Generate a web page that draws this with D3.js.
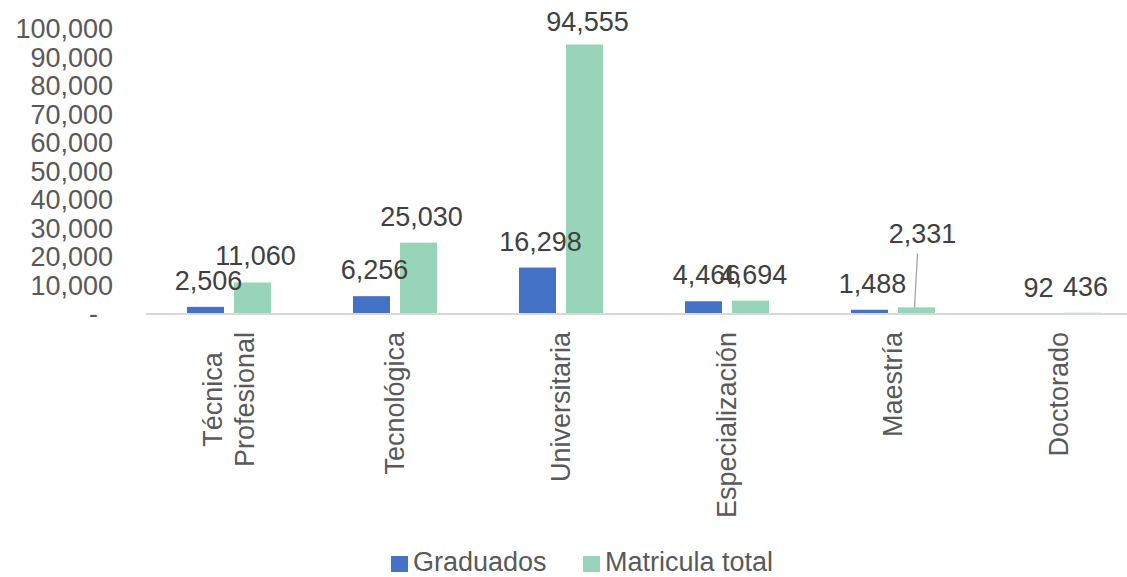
<!DOCTYPE html>
<html>
<head>
<meta charset="utf-8">
<script src="https://cdn.jsdelivr.net/npm/d3@7"></script>
<style>
  body { margin: 0; background: #fff; }
  svg { display: block; font-family: "Liberation Sans", Arial, sans-serif; }
</style>
</head>
<body>
<svg id="chart" width="1127" height="577"></svg>
<script>
// data
const categories = ["Técnica\nProfesional", "Tecnológica", "Universitaria", "Especialización", "Maestría", "Doctorado"];
const series = ["Graduados", "Matricula total"];
const graduados = [2506, 6256, 16298, 4466, 1488, 92];
const matricula = [11060, 25030, 94555, 4694, 2331, 436];
const yTicks = [0, 10000, 20000, 30000, 40000, 50000, 60000, 70000, 80000, 90000, 100000];
const colors = ["#4472C4", "#98D4B9"];
// label moved up with a leader line (Maestría, matricula)
const labelLift = { "Maestría|Matricula total": 47 };

const W = 1127, H = 577;
const plot = { left: 146, right: 1142, top: 29, bottom: 314 };

const svg = d3.select("#chart");

let x = d3.scaleBand().domain(categories).range([plot.left, plot.right]);
let bw = x.bandwidth();
let xSub = d3.scaleBand().domain(series)
	.range([bw / 2 - 42, bw / 2 + 42])
	.paddingInner(10 / 47);
let y = d3.scaleLinear().domain([0, 100000]).range([plot.bottom, plot.top]);

let rows = [];
categories.forEach((c, i) => {
	rows.push({ cat: c, s: series[0], v: graduados[i] });
	rows.push({ cat: c, s: series[1], v: matricula[i] });
});

// y axis, labels only
let yAxis = svg.append("g")
	.attr("transform", `translate(${plot.left},0)`)
	.call(d3.axisLeft(y).tickValues(yTicks).tickSize(0).tickPadding(33)
		.tickFormat(d => d === 0 ? "-" : d3.format(",")(d)));
yAxis.select(".domain").remove();
yAxis.selectAll("text")
	.attr("font-size", 27)
	.attr("font-family", "Liberation Sans, Arial, sans-serif")
	.attr("fill", "#595959")
	.attr("dx", d => d === 0 ? -15 : 0);

// bars
svg.append("g").selectAll("rect").data(rows).join("rect")
	.attr("x", d => x(d.cat) + xSub(d.s))
	.attr("width", xSub.bandwidth())
	.attr("y", d => y(d.v))
	.attr("height", d => plot.bottom - y(d.v))
	.attr("fill", d => colors[series.indexOf(d.s)]);

// baseline
svg.append("line")
	.attr("x1", plot.left).attr("x2", W)
	.attr("y1", plot.bottom).attr("y2", plot.bottom)
	.attr("stroke", "#d9d9d9").attr("stroke-width", 2);

// data labels
let labels = svg.append("g");
rows.forEach(d => {
	let cx = x(d.cat) + xSub(d.s) + xSub.bandwidth() / 2;
	let lift = labelLift[d.cat + "|" + d.s] || 0;
	let gap = d.v > 50000 ? 14 : 17;
	let ty = y(d.v) - gap - lift;
	if (lift) {
		labels.append("line")
			.attr("x1", cx - 2).attr("y1", y(d.v))
			.attr("x2", cx + 1).attr("y2", ty + 10)
			.attr("stroke", "#a6a6a6").attr("stroke-width", 1.3);
	}
	labels.append("text")
		.attr("x", cx + 3 + (lift ? 3 : 0))
		.attr("y", ty)
		.attr("text-anchor", "middle")
		.attr("font-size", 27)
		.attr("fill", "#404040")
		.text(d3.format(",")(d.v));
});

// category labels, rotated, end at top
let catG = svg.append("g");
categories.forEach(c => {
	let lines = c.split("\n");
	let cx = x(c) + bw / 2;
	let t = catG.append("text")
		.attr("font-size", 27)
		.attr("fill", "#595959")
		.attr("text-anchor", "middle");
	let spans = lines.map(l => t.append("tspan").text(l));
	let maxW = d3.max(spans, s => s.node().getComputedTextLength());
	let yc = plot.bottom + 18 + maxW / 2;
	let n = lines.length;
	spans.forEach((s, k) => {
		s.attr("x", -yc).attr("y", cx + (k - (n - 1) / 2) * 32 + 9);
	});
	t.attr("transform", "rotate(-90)");
});

// legend
let leg = svg.append("g").attr("transform", "translate(391,571)");
let legX = [0, 192];
series.forEach((s, i) => {
	let g = leg.append("g").attr("transform", `translate(${legX[i]},0)`);
	g.append("rect").attr("x", 0).attr("y", -15).attr("width", 17).attr("height", 16)
		.attr("fill", colors[i]);
	g.append("text").attr("x", 22).attr("y", 0)
		.attr("font-size", 27).attr("fill", "#595959").text(s);
});
</script>
</body>
</html>
